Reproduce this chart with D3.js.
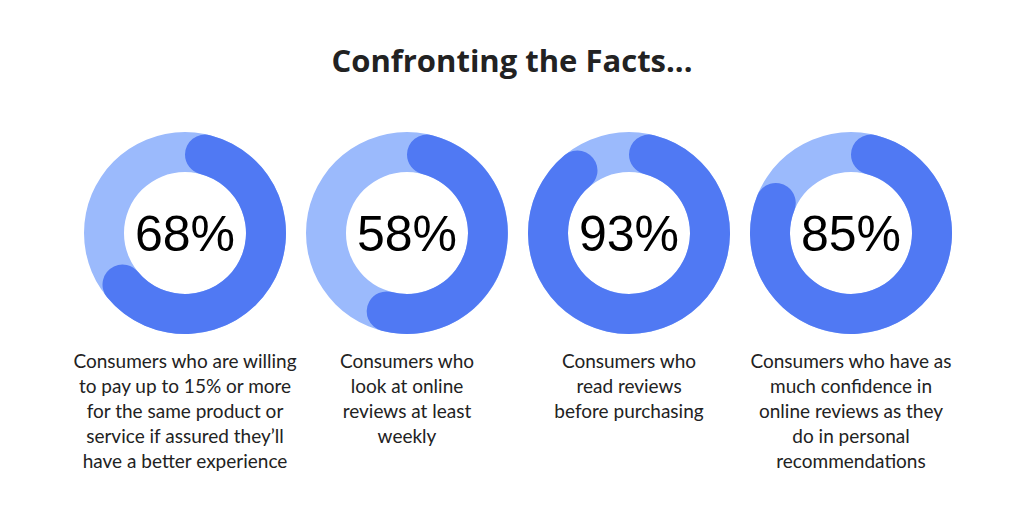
<!DOCTYPE html>
<html>
<head>
<meta charset="utf-8">
<script src="https://cdn.jsdelivr.net/npm/d3@7"></script>
<style>
  html, body { margin: 0; padding: 0; background: #fff; }
  svg { display: block; }
</style>
</head>
<body>
<svg id="chart" width="1024" height="512"></svg>
<script>
// Share of consumers, one donut per statistic
const title = "Confronting the Facts...";
const stats = ["reviews1", "reviews2", "reviews3", "reviews4"];
const percents = [68, 58, 93, 85];
const captions = [
  ["Consumers who are willing", "to pay up to 15% or more", "for the same product or", "service if assured they\u2019ll", "have a better experience"],
  ["Consumers who", "look at online", "reviews at least", "weekly"],
  ["Consumers who", "read reviews", "before purchasing"],
  ["Consumers who have as", "much confidence in", "online reviews as they", "do in personal", "recommendations"]
];

const width = 1024, height = 512;
const svg = d3.select("#chart");

const x = d3.scalePoint()
  .domain(stats)
  .range([185, 851]);

const angle = d3.scaleLinear()
  .domain([0, 100])
  .range([0, 2 * Math.PI]);

const outerR = 101, innerR = 61;
const cy = 233;

const ring = d3.arc()
  .innerRadius(innerR)
  .outerRadius(outerR)
  .startAngle(0)
  .endAngle(2 * Math.PI);

const arc = d3.arc()
  .innerRadius(innerR)
  .outerRadius(outerR)
  .cornerRadius((outerR - innerR) / 2)
  .startAngle(0)
  .endAngle(d => angle(d));

// Title
svg.append("text")
  .attr("x", width / 2)
  .attr("y", 72)
  .attr("text-anchor", "middle")
  .style("font-family", "'Open Sans', sans-serif")
  .style("font-weight", 700)
  .style("font-size", "31px")
  .style("fill", "#222")
  .text(title);

const g = svg.selectAll("g.donut")
  .data(stats)
  .join("g")
  .attr("class", "donut")
  .attr("transform", d => `translate(${x(d)},${cy})`);

// Light background ring
g.append("path")
  .attr("d", ring())
  .attr("fill", "#9bbafc");

// Value arc with rounded ends
g.append("path")
  .attr("d", (d, i) => arc(percents[i]))
  .attr("fill", "#5079f3");

// Percentage label
g.append("text")
  .attr("y", 18)
  .attr("text-anchor", "middle")
  .style("font-family", "'Liberation Sans', Arial, sans-serif")
  .style("font-size", "50px")
  .style("fill", "#000")
  .text((d, i) => percents[i] + "%");

// Captions under each donut
g.append("text")
  .attr("text-anchor", "middle")
  .style("font-family", "Lato, sans-serif")
  .style("font-size", "19px")
  .style("fill", "#222")
  .selectAll("tspan")
  .data((d, i) => captions[i])
  .join("tspan")
  .attr("x", 0)
  .attr("y", (d, j) => 368 - cy + j * 25)
  .text(d => d);
</script>
</body>
</html>
